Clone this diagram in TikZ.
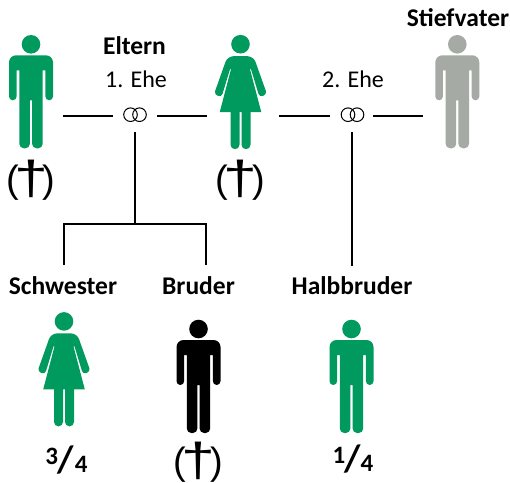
\documentclass[tikz,border=0pt]{standalone}
\usepackage{fontspec}
\usepackage{graphicx}
\setmainfont{Carlito}
\newfontfamily\deadfont{Liberation Sans}
\definecolor{figgreen}{HTML}{00995E}
\definecolor{figgray}{HTML}{A5AAA5}
\newcommand{\deadmark}{(\kern-5pt\raisebox{-2.5pt}{\scalebox{1.6}[1.25]{†}}\kern-5pt)}
\tikzset{
  man/.pic={
    \path[pic actions] (0,0) circle (9.3);
    \path[pic actions] (0,11) [rounded corners=7pt] -- (22,11) [rounded corners=3.8pt] -- (22,56) -- (14.4,56) [sharp corners] -- (14.4,26) -- (11.7,26) [rounded corners=4.5pt] -- (11.7,104) -- (1.1,104) [sharp corners] -- (1.1,56) -- (-1.1,56) [rounded corners=4.5pt] -- (-1.1,104) -- (-11.7,104) [sharp corners] -- (-11.7,26) -- (-14.4,26) [rounded corners=3.8pt] -- (-14.4,56) -- (-22,56) [rounded corners=7pt] -- (-22,11) -- cycle;
  },
  woman/.pic={
    \path[pic actions] (0,0) circle (9.3);
    \path[pic actions] (0,12) [rounded corners=6pt] -- (13,12) [rounded corners=3.5pt] -- (26.5,50) -- (19,53) [sharp corners] -- (10.5,25) -- (9.5,25) -- (20.8,68) -- (-20.8,68) -- (-9.5,25) -- (-10.5,25) [rounded corners=3.5pt] -- (-19,53) -- (-26.5,50) [rounded corners=6pt] -- (-13,12) -- cycle;
    \path[pic actions] (1,67) -- (10,67) [rounded corners=4.5pt] -- (10,105) -- (1,105) [sharp corners] -- cycle;
    \path[pic actions] (-1,67) -- (-10,67) [rounded corners=4.5pt] -- (-10,105) -- (-1,105) [sharp corners] -- cycle;
  },
  rings/.pic={
    \draw[line width=1pt] (-4.5,0) circle (6.8);
    \draw[line width=1pt] (4.5,0) circle (6.8);
  },
  conn/.style={line width=2pt,black},
  boldlabel/.style={font=\fontsize{25.5}{28}\selectfont\bfseries,inner sep=0pt},
  pluslabel/.style={font=\fontsize{24}{28}\selectfont,inner sep=0pt},
  deadlabel/.style={font=\fontsize{38}{40}\selectfont\deadfont,inner sep=0pt},
  fraclabel/.style={font=\fontsize{25}{26}\selectfont\bfseries,inner sep=0pt},
}
\begin{document}
\begin{tikzpicture}[x=1pt,y=-1pt]
\useasboundingbox (0,0) rectangle (510,482);
\pic[fill=figgreen] at (31,44.3) {man};
\pic[fill=figgreen] at (240.5,44.2) {woman};
\pic[fill=figgray] at (457.3,44.3) {man};
\pic[fill=figgreen] at (64,321.4) {woman};
\pic[fill=black] at (198.5,329) {man};
\pic[fill=figgreen] at (351.5,329) {man};
\pic at (135,114.7) {rings};
\pic at (352.5,114.7) {rings};
\node[boldlabel] (eltern) at (134.5,46) {Eltern};
\node[pluslabel] (ehe1) at (136,79) {1. Ehe};
\node[pluslabel] (ehe2) at (353,79) {2. Ehe};
\node[boldlabel] (stief) at (458,18) {Stiefvater};
\node[boldlabel] (schw) at (63,286) {Schwester};
\node[boldlabel] (brud) at (198.5,286) {Bruder};
\node[boldlabel] (halb) at (352,286) {Halbbruder};
\node[deadlabel] (d1) at (31,180) {\deadmark};
\node[deadlabel] (d2) at (240.5,180) {\deadmark};
\node[deadlabel] (d3) at (198.5,462) {\deadmark};
\node[fraclabel] (f34) at (66.5,460) {\raisebox{8pt}{3}\kern-0.5pt\fontsize{38}{38}\selectfont/\kern1pt\fontsize{25}{26}\selectfont 4};
\node[fraclabel] (f14) at (353,459.5) {\raisebox{8pt}{1}\kern-1pt\fontsize{38}{38}\selectfont/\fontsize{25}{26}\selectfont 4};
\coordinate (a1) at (63,116.3);
\coordinate (a2) at (113,116.3);
\coordinate (b1) at (157,116.3);
\coordinate (b2) at (207,116.3);
\coordinate (c1) at (279.3,116.3);
\coordinate (c2) at (330,116.3);
\coordinate (e1) at (373.3,116.3);
\coordinate (e2) at (423.3,116.3);
\coordinate (v1) at (135,132);
\coordinate (v2) at (135,224);
\coordinate (sl) at (63.5,265);
\coordinate (sr) at (206,265);
\coordinate (h1) at (352,132);
\coordinate (h2) at (352,266);
\draw[conn] (a1) -- (a2);
\draw[conn] (b1) -- (b2);
\draw[conn] (c1) -- (c2);
\draw[conn] (e1) -- (e2);
\draw[conn] (v1) -- (v2);
\draw[conn] (sl) |- (v2) -| (sr);
\draw[conn] (h1) -- (h2);
\end{tikzpicture}
\end{document}
